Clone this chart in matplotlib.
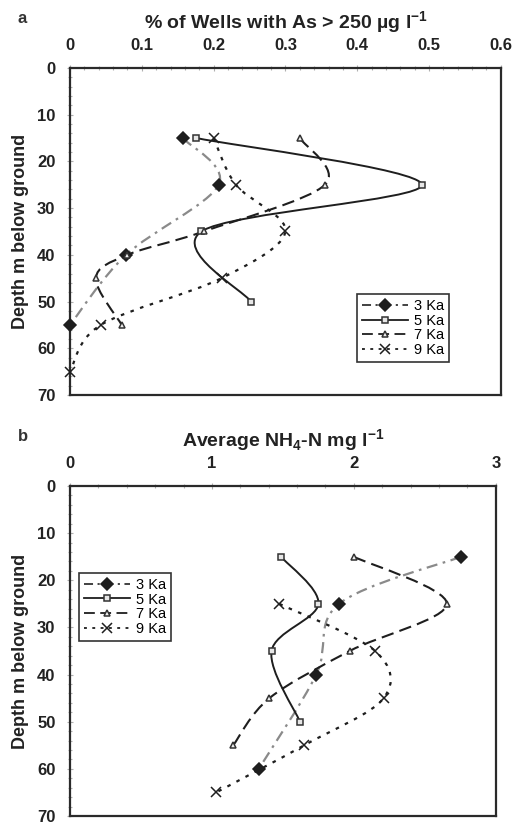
import matplotlib
matplotlib.use("Agg")
import matplotlib.pyplot as plt
import numpy as np
from matplotlib.path import Path
from matplotlib.patches import PathPatch
from matplotlib.lines import Line2D
from matplotlib.ticker import MultipleLocator, FuncFormatter

plt.rcParams["font.family"] = ["Liberation Sans", "DejaVu Sans"]
plt.rcParams["mathtext.fontset"] = "custom"
plt.rcParams["mathtext.rm"] = "Liberation Sans"
plt.rcParams["mathtext.bf"] = "Liberation Sans:bold"

series_names = ["3 Ka", "5 Ka", "7 Ka", "9 Ka"]

# panel a: % of wells with As > 250 ug/l
a_depth_3 = [15, 25, 40, 55]
a_val_3 = [0.157, 0.207, 0.078, 0.0]
a_depth_5 = [15, 25, 35, 50]
a_val_5 = [0.176, 0.49, 0.183, 0.252]
a_depth_7 = [15, 25, 35, 40, 45, 55]
a_val_7 = [0.32, 0.355, 0.186, 0.08, 0.036, 0.072]
a_depth_9 = [15, 25, 35, 45, 55, 65]
a_val_9 = [0.2, 0.231, 0.3, 0.211, 0.043, 0.0]

# panel b: average NH4-N mg/l
b_depth_3 = [15, 25, 40, 60]
b_val_3 = [2.755, 1.895, 1.735, 1.33]
b_depth_5 = [15, 25, 35, 50]
b_val_5 = [1.487, 1.75, 1.42, 1.62]
b_depth_7 = [15, 25, 35, 45, 55]
b_val_7 = [2.0, 2.655, 1.97, 1.405, 1.15]
b_depth_9 = [25, 35, 45, 55, 65]
b_val_9 = [1.475, 2.15, 2.21, 1.65, 1.03]

styles = [
    dict(color="#8a8a8a", ls=(0, (5, 2.5, 1.2, 2.5)), lw=1.6, marker="D", ms=6,
         mfc="#1e1e1e", mec="#1e1e1e"),
    dict(color="#1e1e1e", ls="-", lw=1.4, marker="s", ms=4.5,
         mfc="#e6e6e6", mec="#333333"),
    dict(color="#1e1e1e", ls=(0, (6, 3)), lw=1.5, marker="^", ms=5,
         mfc="#f0f0f0", mec="#333333"),
    dict(color="#1e1e1e", ls=(0, (1.6, 3)), lw=1.6, marker="x", ms=7,
         mfc="#1e1e1e", mec="#1e1e1e"),
]


def smooth_path(xs, ys):
    # Excel-like smoothed line: Catmull-Rom as cubic bezier
    pts = np.column_stack([xs, ys]).astype(float)
    verts = [pts[0]]
    codes = [Path.MOVETO]
    n = len(pts)
    for i in range(n - 1):
        p0 = pts[i - 1] if i > 0 else pts[i]
        p1 = pts[i]
        p2 = pts[i + 1]
        p3 = pts[i + 2] if i + 2 < n else pts[i + 1]
        c1 = p1 + (p2 - p0) / 6.0
        c2 = p2 - (p3 - p1) / 6.0
        verts += [c1, c2, p2]
        codes += [Path.CURVE4] * 3
    return Path(verts, codes)


def draw_panel(ax, data, xmax, xstep, xminor, title, letter, legend_loc):
    for (vals, depths), st in zip(data, styles):
        patch = PathPatch(smooth_path(vals, depths), fill=False,
                          edgecolor=st["color"], lw=st["lw"], ls=st["ls"],
                          capstyle="butt", zorder=2)
        ax.add_patch(patch)
        ax.plot(vals, depths, ls="none", marker=st["marker"], ms=st["ms"],
                mfc=st["mfc"], mec=st["mec"], mew=1.1, zorder=3, clip_on=False)

    ax.set_xlim(0, xmax)
    ax.set_ylim(70, 0)
    ax.xaxis.tick_top()
    ax.xaxis.set_label_position("top")
    ax.xaxis.set_major_locator(MultipleLocator(xstep))
    ax.xaxis.set_minor_locator(MultipleLocator(xminor))
    ax.xaxis.set_major_formatter(FuncFormatter(lambda v, p: f"{v:g}"))
    ax.yaxis.set_major_locator(MultipleLocator(10))
    ax.yaxis.set_minor_locator(MultipleLocator(2))
    ax.tick_params(which="both", direction="inout", color="#b0b0b0", width=0.8)
    ax.tick_params(which="major", length=5, labelsize=12, pad=8)
    ax.tick_params(which="minor", length=3)
    for lab in ax.get_xticklabels() + ax.get_yticklabels():
        lab.set_fontweight("bold")
        lab.set_color("#222222")
    for sp in ax.spines.values():
        sp.set_linewidth(1.6)
        sp.set_color("#2a2a2a")

    ax.set_xlabel(title, fontsize=14, fontweight="bold", labelpad=7, color="#222222")
    ax.set_ylabel("Depth m below ground", fontsize=13, fontweight="bold",
                  labelpad=6, color="#222222")
    ax.text(-0.11, 1.15, letter, transform=ax.transAxes, fontsize=12,
            fontweight="bold", color="#333333", ha="center", va="center")

    handles = [Line2D([], [], color=("#333333" if i == 0 else st["color"]),
                      ls=st["ls"], lw=1.3, marker=st["marker"],
                      ms=st["ms"], mfc=st["mfc"], mec=st["mec"], mew=1.1)
               for i, st in enumerate(styles)]
    leg = ax.legend(handles, series_names, loc=legend_loc, fontsize=10.5,
                    frameon=True, fancybox=False, edgecolor="#333333",
                    framealpha=1, handlelength=3.2, handletextpad=0.4,
                    labelspacing=0.05, borderpad=0.35)
    leg.get_frame().set_linewidth(1.2)


fig = plt.figure(figsize=(5.28, 8.27), dpi=100)
ax_a = fig.add_axes([0.1326, 0.5224, 0.816, 0.3954])
ax_b = fig.add_axes([0.1326, 0.0133, 0.8064, 0.399])

draw_panel(ax_a,
           [(a_val_3, a_depth_3), (a_val_5, a_depth_5),
            (a_val_7, a_depth_7), (a_val_9, a_depth_9)],
           0.6, 0.1, 0.02, r"% of Wells with As > 250 µg l$^{\mathbf{-1}}$", "a",
           (0.665, 0.1))
draw_panel(ax_b,
           [(b_val_3, b_depth_3), (b_val_5, b_depth_5),
            (b_val_7, b_depth_7), (b_val_9, b_depth_9)],
           3, 1, 0.2, r"Average NH$_{\mathbf{4}}$-N mg l$^{\mathbf{-1}}$", "b",
           (0.02, 0.53))

fig.savefig("out.png", dpi=100)
